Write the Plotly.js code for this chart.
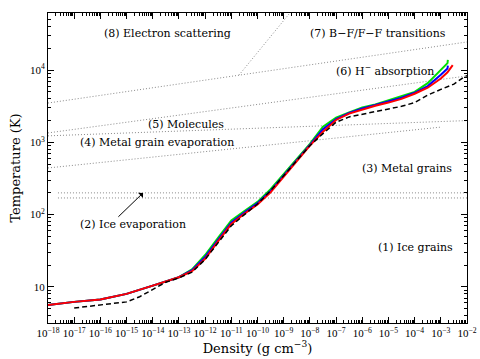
<!DOCTYPE html>
<html>
<head>
<meta charset="utf-8">
<script src="https://cdn.plot.ly/plotly-3.0.1.min.js"></script>
<style>
  html, body { margin: 0; padding: 0; background: #fff; }
  #chart { width: 480px; height: 359px; }
</style>
</head>
<body>
<div id="chart"></div>
<script>
// density grid (g cm^-3) shared by the three colour runs
var rhoGrid = [1e-18, 1e-17, 1e-16, 1e-15, 1e-14, 3.16e-14, 1e-13, 3.16e-13, 1e-12, 3.16e-12,
               1e-11, 3.16e-11, 1e-10, 3.16e-10, 1e-9, 3.16e-9, 1e-8, 3.16e-8, 1e-7, 3.16e-7,
               1e-6, 3.16e-6, 1e-5, 3.16e-5, 1e-4, 3.16e-4, 1e-3, 1.8e-3];
var tRed   = [5.6, 6.2, 6.7, 8.0, 10.4, 11.8, 13.6, 16.5, 24.5, 43, 74, 103, 138, 203, 330, 540,
              900, 1400, 2040, 2500, 2850, 3200, 3550, 4000, 4700, 5700, 7650, 9300];
var tBlue  = [5.6, 6.2, 6.7, 8.0, 10.4, 11.8, 13.6, 17, 26, 45, 78, 107, 144, 213, 345, 570,
              920, 1520, 2100, 2550, 2950, 3280, 3650, 4150, 4850, 6000, 8600, 10500];
var tGreen = [5.6, 6.2, 6.7, 8.0, 10.4, 11.8, 13.6, 17.5, 27.6, 48, 83, 112, 150, 225, 365, 600,
              950, 1650, 2200, 2600, 3050, 3350, 3800, 4300, 5000, 6600, 10300, 12500];
// end points of the colour runs
var rhoEnd = [2.85e-3, 1.86e-3, 1.86e-3];
var tEnd   = [11700, 11500, 13800];

// dashed black comparison run
var rhoDash = [1e-17, 1e-16, 1e-15, 3.16e-15, 1e-14, 3.16e-14, 1e-13, 3.16e-13, 1e-12, 3.16e-12,
               1e-11, 3.16e-11, 1e-10, 3.16e-10, 1e-9, 3.16e-9, 1e-8, 3.16e-8, 1e-7, 3.16e-7,
               1e-6, 3.16e-6, 1e-5, 3.16e-5, 1e-4, 3.16e-4, 1e-3, 3.16e-3, 7.6e-3, 1e-2];
var tDash   = [5.1, 5.6, 6.2, 7.3, 9.2, 11.6, 13.3, 16, 24, 41, 70, 100, 140, 215, 345, 560,
               900, 1320, 1900, 2250, 2450, 2700, 2900, 3150, 3550, 4500, 5400, 6400, 8000, 8400];

// opacity-regime boundaries (dotted)
var boundRho = [[1e-18, 1e-2], [1.95e-11, 1.74e-9], [1e-18, 1e-2], [1e-18, 1e-2],
                [1e-18, 9.3e-4], [2.4e-18, 1e-2], [2.4e-18, 1e-2]];
var boundT   = [[3500, 24500], [8500, 62000], [1350, 8300], [1230, 2000],
                [442, 1620], [200, 200], [170, 170]];

// region labels
var labelText = ['(8) Electron scattering', '(7) B\u2212F/F\u2212F transitions', '(6) H<sup>\u2212</sup> absorption',
                 '(5) Molecules', '(4) Metal grain evaporation', '(3) Metal grains',
                 '(2) Ice evaporation', '(1) Ice grains'];
var labelRho = [3.5e-14, 4.0e-6, 7.4e-6, 1.86e-13, 1.45e-14, 5.1e-5, 1.78e-15, 1.12e-4];
var labelT   = [32000, 32000, 10000, 1740, 980, 430, 74, 35];

var xTicks = [], xText = [];
for (var e = -18; e <= -2; e++) {
  xTicks.push(Math.pow(10, e));
  xText.push('10<sup>\u2212' + (-e) + '</sup>');
}
var yTicks = [10, 100, 1000, 10000];
var yText = ['10', '10<sup>2</sup>', '10<sup>3</sup>', '10<sup>4</sup>'];

var traces = [];
boundRho.forEach(function(r, i) {
  traces.push({
    x: r, y: boundT[i], mode: 'lines', type: 'scatter', hoverinfo: 'skip',
    line: { color: '#8a8a8a', width: 1, dash: '1px,2px' }
  });
});
var colours = ['#00e000', '#0000ff', '#ff0000'];
[tGreen, tBlue, tRed].forEach(function(t, i) {
  traces.push({
    x: rhoGrid.concat([rhoEnd[2 - i]]), y: t.concat([tEnd[2 - i]]),
    mode: 'lines', type: 'scatter', line: { color: colours[i], width: 2 }
  });
});
traces.push({
  x: rhoDash, y: tDash, mode: 'lines', type: 'scatter',
  line: { color: '#000', width: 1.5, dash: '5px,3px' }
});

var annotations = labelText.map(function(s, i) {
  return {
    text: s, x: Math.log10(labelRho[i]), y: Math.log10(labelT[i]),
    xref: 'x', yref: 'y', showarrow: false,
    font: { family: 'DejaVu Serif', size: 11, color: '#000' }
  };
});
annotations.push({
  text: '', x: -14.37, y: 2.30, ax: -15.37, ay: 1.95, axref: 'x', ayref: 'y',
  xref: 'x', yref: 'y', showarrow: true, arrowhead: 1, arrowsize: 1.2, arrowwidth: 1, arrowcolor: '#000'
});

var axisCommon = {
  type: 'log', showgrid: false, zeroline: false, showline: true, linecolor: '#000', linewidth: 1,
  mirror: 'allticks', ticks: 'inside', ticklen: 6, tickcolor: '#000', tickmode: 'array',
  tickangle: 0,
  tickfont: { family: 'Liberation Serif', size: 11, color: '#000' },
  minor: { ticks: 'inside', ticklen: 3, tickcolor: '#000', dtick: 'D1', showgrid: false }
};

var layout = {
  width: 480, height: 359,
  margin: { l: 48, r: 13, t: 13, b: 36 },
  paper_bgcolor: '#fff', plot_bgcolor: '#fff',
  showlegend: false,
  xaxis: Object.assign({}, axisCommon, {
    range: [-18, -2], tickvals: xTicks, ticktext: xText,
    title: { text: 'Density (g cm<sup>\u22123</sup>)', standoff: 4,
             font: { family: 'DejaVu Serif', size: 13, color: '#000' } }
  }),
  yaxis: Object.assign({}, axisCommon, {
    range: [0.5, 4.79], tickvals: yTicks, ticktext: yText,
    title: { text: 'Temperature (K)', standoff: 6,
             font: { family: 'DejaVu Serif', size: 13, color: '#000' } }
  }),
  annotations: annotations
};

Plotly.newPlot('chart', traces, layout, { displayModeBar: false, staticPlot: true });
</script>
</body>
</html>
